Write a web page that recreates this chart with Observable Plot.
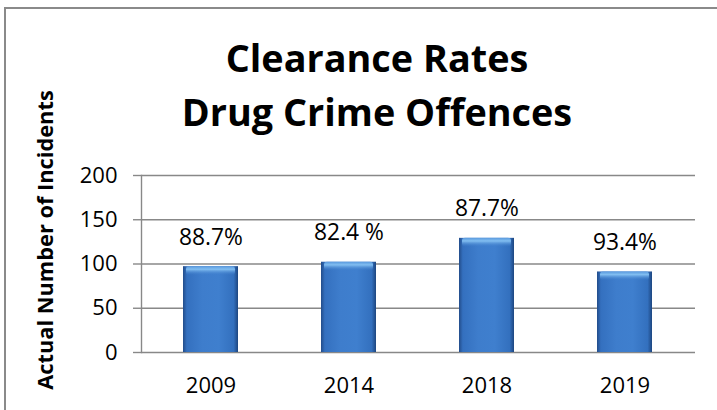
<!DOCTYPE html>
<html>
<head>
<meta charset="utf-8">
<script src="https://cdn.jsdelivr.net/npm/d3@7"></script>
<script src="https://cdn.jsdelivr.net/npm/@observablehq/plot@0.6"></script>
<style>
  html, body { margin: 0; padding: 0; background: #fff; overflow: hidden; }
  #wrap { position: relative; width: 717px; height: 410px; overflow: hidden; font-family: "Open Sans", sans-serif; }
  #border { position: absolute; left: 4px; top: 7px; width: 900px; height: 600px; border-left: 2px solid #8a8a8a; border-top: 2px solid #8a8a8a; }
  #chart { position: absolute; left: 0; top: 0; }
  #title { position: absolute; left: 377px; top: 31px; transform: translateX(-50%); white-space: nowrap; text-align: center;
           font-weight: 700; font-size: 37.8px; line-height: 54px; color: #000; }
  #ylabel { position: absolute; left: 44px; top: 239.5px; transform: translate(-50%, -50%) rotate(-90deg); white-space: nowrap;
            font-weight: 700; font-size: 21.8px; line-height: normal; color: #000; }
</style>
</head>
<body>
<svg width="0" height="0" style="position:absolute">
  <defs>
    <linearGradient id="barGrad" x1="0" y1="0" x2="1" y2="0">
      <stop offset="0%" stop-color="#224c8a"/>
      <stop offset="7%" stop-color="#3470bf"/>
      <stop offset="35%" stop-color="#3e7dcc"/>
      <stop offset="65%" stop-color="#3f7fce"/>
      <stop offset="92%" stop-color="#3370be"/>
      <stop offset="100%" stop-color="#1d4680"/>
    </linearGradient>
    <linearGradient id="capGrad" x1="0" y1="0" x2="0" y2="1">
      <stop offset="0%" stop-color="#5d9de0" stop-opacity="0.9"/>
      <stop offset="35%" stop-color="#86c2f3" stop-opacity="0.95"/>
      <stop offset="100%" stop-color="#3e7dcc" stop-opacity="0"/>
    </linearGradient>
  </defs>
</svg>
<div id="wrap">
  <div id="border"></div>
  <div id="chart"></div>
  <div id="title">Clearance Rates<br>Drug Crime Offences</div>
  <div id="ylabel">Actual Number of Incidents</div>
</div>
<script>
const years = ["2009", "2014", "2018", "2019"];
const incidents = [97, 102, 129, 91];
const rateLabels = ["88.7%", "82.4 %", "87.7%", "93.4%"];
const yTicks = [0, 50, 100, 150, 200];

const data = years.map((year, i) => ({year, value: incidents[i], label: rateLabels[i]}));

const chart = Plot.plot({
  width: 717,
  height: 410,
  marginLeft: 141,
  marginRight: 22,
  marginTop: 175,
  marginBottom: 58,
  style: {fontFamily: "Open Sans, sans-serif", fontSize: "22px", color: "#000", background: "transparent", overflow: "visible"},
  x: {domain: years, paddingInner: 0.6, paddingOuter: 0.3, label: null},
  y: {domain: [0, 200], ticks: yTicks, label: null},
  marks: [
    Plot.gridY(yTicks, {stroke: "#888", strokeOpacity: 1, strokeWidth: 1.4}),
    Plot.barY(data, {x: "year", y: "value", fill: "url(#barGrad)"}),
    Plot.barY(data, {x: "year", y1: "value", y2: "value", insetBottom: -9, insetLeft: 3, insetRight: 3, rx: 3, fill: "url(#capGrad)"}),
    Plot.frame({anchor: "left", stroke: "#888", strokeWidth: 1.4}),
    Plot.axisY(yTicks, {tickSize: 8, tickPadding: 16, stroke: "#888", strokeWidth: 1.4, fill: "#000", label: null}),
    Plot.axisX({tickSize: 0, tickPadding: 25, fill: "#000", label: null}),
    Plot.text(data, {x: "year", y: "value", text: "label", lineAnchor: "bottom", dy: -22, fill: "#000", fontSize: 22.8})
  ]
});
document.getElementById("chart").appendChild(chart);
</script>
</body>
</html>
